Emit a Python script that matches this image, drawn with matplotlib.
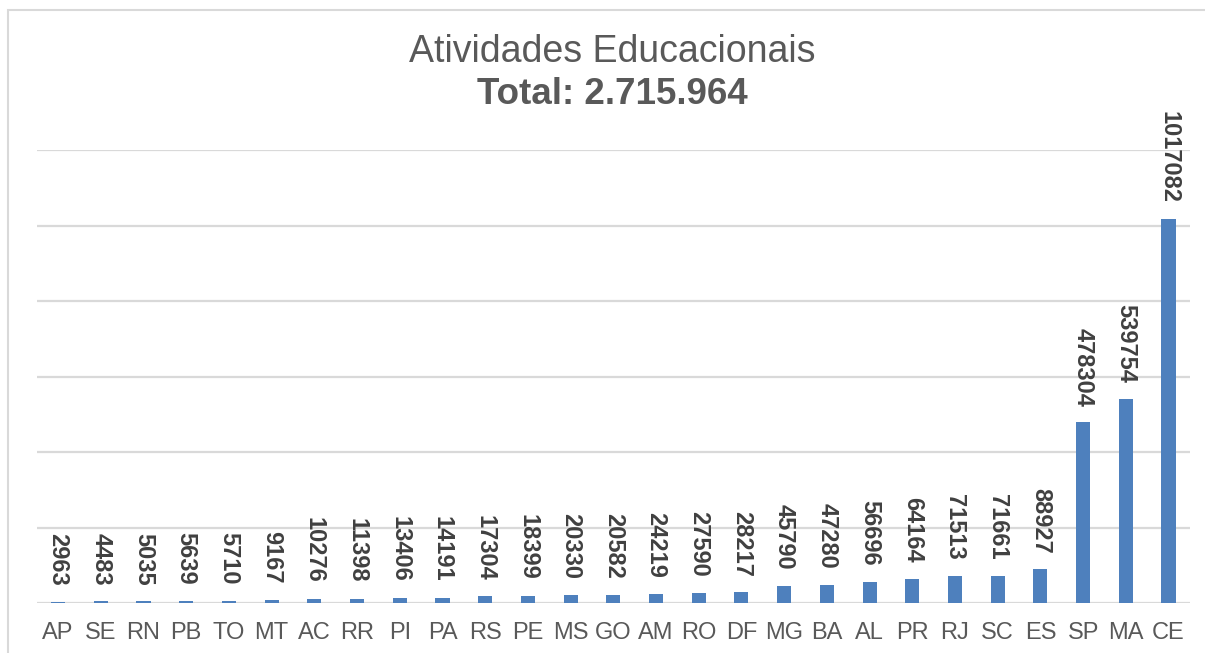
import matplotlib.pyplot as plt
import matplotlib.patches as mpatches
import numpy as np

plt.rcParams['font.family'] = ['Liberation Sans', 'DejaVu Sans']

estados = ['AP', 'SE', 'RN', 'PB', 'TO', 'MT', 'AC', 'RR', 'PI', 'PA', 'RS', 'PE', 'MS', 'GO',
           'AM', 'RO', 'DF', 'MG', 'BA', 'AL', 'PR', 'RJ', 'SC', 'ES', 'SP', 'MA', 'CE']
valores = [2963, 4483, 5035, 5639, 5710, 9167, 10276, 11398, 13406, 14191, 17304, 18399, 20330, 20582,
           24219, 27590, 28217, 45790, 47280, 56696, 64164, 71513, 71661, 88927, 478304, 539754, 1017082]
titulo = 'Atividades Educacionais'
total_txt = 'Total: 2.715.964'

W, H = 1205, 653
fig = plt.figure(figsize=(W / 100, H / 100), dpi=100)
# plot area in pixels: x 36.7..1189.9, y 150..603
ax = fig.add_axes([36.7 / W, (H - 603) / H, (1189.9 - 36.7) / W, (603 - 150) / H])

x = np.arange(len(estados))
ax.bar(x, valores, width=0.33, color='#4E80BD', zorder=3)
ax.set_xlim(-0.5, len(estados) - 0.5)
ax.set_ylim(0, 1200000)
ax.set_yticks(np.arange(0, 1200001, 200000))
ax.yaxis.grid(True, color='#d9d9d9', linewidth=1.6, zorder=0)
ax.tick_params(axis='y', length=0, labelleft=False)
ax.set_xticks(x)
ax.set_xticklabels(estados, fontsize=17, color='#595959')
ax.tick_params(axis='x', length=0, pad=14)
for s in ax.spines.values():
    s.set_visible(False)

for xi, v in zip(x, valores):
    ax.annotate(str(v), (xi, v), xytext=(0, 11.5), textcoords='offset points',
                rotation=270, ha='center', va='bottom', fontsize=17, fontweight='bold',
                color='#404040', clip_on=False)

fig.text(612 / W, 1 - 52 / H, titulo, ha='center', va='center', fontsize=27, color='#595959')
fig.text(612 / W, 1 - 95 / H, total_txt, ha='center', va='center', fontsize=26.5, fontweight='bold',
         color='#595959')

# chart border
fig.patches.append(mpatches.Rectangle((8 / W, -0.1), 1.2, (H - 10.5) / H + 0.1,
                                      transform=fig.transFigure, fill=False,
                                      edgecolor='#d9d9d9', linewidth=1.5))

fig.savefig('out.png', dpi=100)
